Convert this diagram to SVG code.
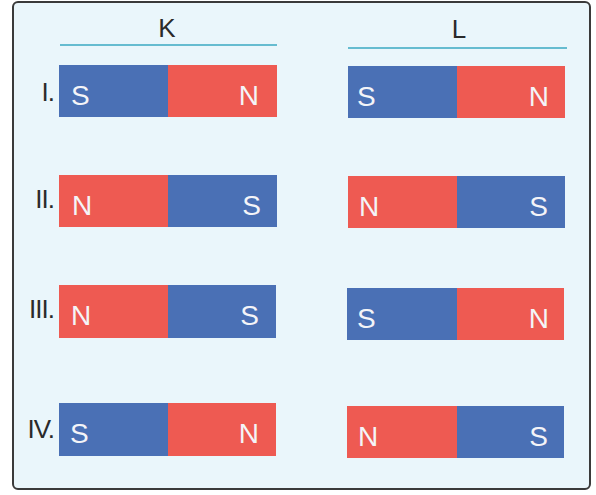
<svg xmlns="http://www.w3.org/2000/svg" width="596" height="495" viewBox="0 0 596 495">
<style>
.frame{fill:#eaf6fb;stroke:#3a3a3a;stroke-width:2}
.hdr{font-family:"Liberation Sans",Arial,sans-serif;font-size:26px;fill:#2a2a2a;text-anchor:middle}
.hline{stroke:#3aa8c2;stroke-width:1.6}
.lbl{font-family:"Liberation Sans",Arial,sans-serif;font-size:26px;fill:#2a2a2a;text-anchor:end;letter-spacing:-1px}
.b{fill:#4a70b5}
.r{fill:#ee5a52}
.p{font-family:"Liberation Sans",Arial,sans-serif;font-size:28px;fill:#f4f4f8}
.e{text-anchor:end}
</style>
<rect class="frame" x="13" y="2" width="577" height="487" rx="5"/>
<g id="headerK"><text class="hdr" x="167" y="37">K</text><line class="hline" x1="60" y1="45" x2="277" y2="45"/></g>
<g id="headerL"><text class="hdr" x="459" y="38">L</text><line class="hline" x1="348" y1="48" x2="567" y2="48"/></g>
<g id="labels">
<text class="lbl" x="54" y="101">I.</text>
<text class="lbl" x="54" y="208">II.</text>
<text class="lbl" x="54" y="318">III.</text>
<text class="lbl" x="54" y="438">IV.</text>
</g>
<g id="K1"><rect class="b" x="59" y="65" width="109" height="52"/><rect class="r" x="168" y="65" width="109" height="52"/><text class="p" x="71" y="105">S</text><text class="p e" x="259" y="105">N</text></g>
<g id="K2"><rect class="r" x="59" y="175" width="109" height="52"/><rect class="b" x="168" y="175" width="109" height="52"/><text class="p" x="72" y="215">N</text><text class="p e" x="261" y="215">S</text></g>
<g id="K3"><rect class="r" x="59" y="285" width="109" height="53"/><rect class="b" x="168" y="285" width="108" height="53"/><text class="p" x="71" y="325">N</text><text class="p e" x="259" y="325">S</text></g>
<g id="K4"><rect class="b" x="59" y="403" width="109" height="53"/><rect class="r" x="168" y="403" width="108" height="53"/><text class="p" x="70" y="443">S</text><text class="p e" x="259" y="443">N</text></g>
<g id="L1"><rect class="b" x="348" y="66" width="109" height="52"/><rect class="r" x="457" y="66" width="108" height="52"/><text class="p" x="357" y="106">S</text><text class="p e" x="549" y="106">N</text></g>
<g id="L2"><rect class="r" x="348" y="176" width="109" height="52"/><rect class="b" x="457" y="176" width="108" height="52"/><text class="p" x="359" y="216">N</text><text class="p e" x="548" y="216">S</text></g>
<g id="L3"><rect class="b" x="347" y="288" width="110" height="52"/><rect class="r" x="457" y="288" width="107" height="52"/><text class="p" x="357" y="328">S</text><text class="p e" x="549" y="328">N</text></g>
<g id="L4"><rect class="r" x="347" y="406" width="110" height="52"/><rect class="b" x="457" y="406" width="107" height="52"/><text class="p" x="358" y="446">N</text><text class="p e" x="548" y="446">S</text></g>
</svg>
